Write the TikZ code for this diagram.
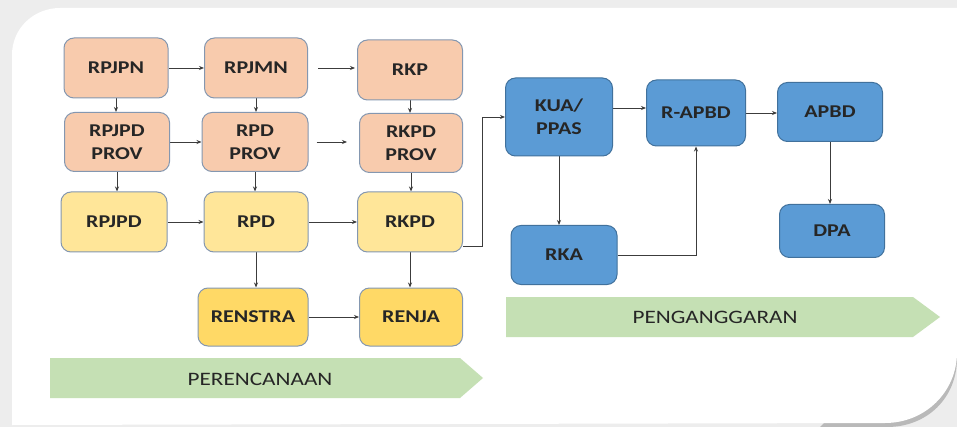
\documentclass[tikz,border=0pt]{standalone}
\usepackage{fontspec}
\usepackage{xcolor}
\usepackage{tikz}
\usetikzlibrary{positioning}
\usetikzlibrary{arrows.meta}
\newfontfamily\boxfont{Carlito}[FakeStretch=1.22]
\pgfdeclarelayer{bglayer}
\pgfdeclarelayer{nodelayer}
\pgfdeclarelayer{edgelayer}
\pgfsetlayers{bglayer,edgelayer,nodelayer,main}
\definecolor{peach}{HTML}{F8CBAD}
\definecolor{lightyel}{HTML}{FFE699}
\definecolor{darkyel}{HTML}{FFD966}
\definecolor{boxblue}{HTML}{5B9BD5}
\definecolor{blueline}{HTML}{41719C}
\definecolor{grayline}{HTML}{8497B0}
\definecolor{phase}{HTML}{C5E0B4}
\definecolor{ink}{HTML}{262626}
\tikzset{
    box/.style = {rounded corners=10pt, draw=grayline, line width=1pt, align=center,
                  text=ink, font=\boxfont\bfseries\fontsize{18}{23}\selectfont, inner sep=0pt},
    plan/.style = {box, fill=peach},
    daerah/.style = {box, fill=lightyel},
    dok/.style = {box, fill=darkyel},
    anggaran/.style = {box, fill=boxblue, draw=blueline},
    link/.style = {draw=ink!90, line width=0.9pt, -{Stealth[length=5pt,width=4pt]}},
    phasetext/.style = {text=ink, font=\boxfont\fontsize{19}{22}\selectfont, inner sep=0pt}
}
\begin{document}
\begin{tikzpicture}[x=1pt, y=-1pt]
  \useasboundingbox (0,0) rectangle (957,427);
  \begin{pgfonlayer}{bglayer}
    % background and panel
    \fill[gray!14] (0,0) rectangle (957,427);
    \fill[gray!55] (820,427) -- (957,290) -- (957,358) .. controls (957,398) and (927,427) .. (887,427) -- cycle;
    \fill[white] (12,425) -- (12,55) .. controls (12,28) and (34,8) .. (60,8) -- (957,8) -- (957,352)
      .. controls (957,392) and (925,423) .. (885,423) -- cycle;
    % phases
    \fill[phase] (50,358) -- (460,358) -- (483,378) -- (460,398) -- (50,398) -- cycle;
    \fill[phase] (506,297) -- (913,297) -- (940,317) -- (913,337) -- (506,337) -- cycle;
  \end{pgfonlayer}
  \node [phasetext] (perencanaan) at (260,379) {PERENCANAAN};
  \node [phasetext] (penganggaran) at (715,317) {PENGANGGARAN};
  \begin{pgfonlayer}{nodelayer}
    \node [plan, minimum width=104pt, minimum height=60pt] (rpjpn) at (116, 68) {RPJPN};
    \node [plan, minimum width=103pt, minimum height=60pt] (rpjmn) at (256, 68) {RPJMN};
    \node [plan, minimum width=105pt, minimum height=60pt] (rkp) at (410, 70) {RKP};
    \node [plan, minimum width=105pt, minimum height=59pt] (rpjpdprov) at (117, 142) {RPJPD\\PROV};
    \node [plan, minimum width=106pt, minimum height=59pt] (rpdprov) at (255, 142) {RPD\\PROV};
    \node [plan, minimum width=103pt, minimum height=59pt] (rkpdprov) at (411, 143) {RKPD\\PROV};
    \node [daerah, minimum width=106pt, minimum height=60pt] (rpjpd) at (114, 222) {RPJPD};
    \node [daerah, minimum width=104pt, minimum height=60pt] (rpd) at (256, 222) {RPD};
    \node [daerah, minimum width=105pt, minimum height=60pt] (rkpd) at (410, 222) {RKPD};
    \node [dok, minimum width=110pt, minimum height=58pt] (renstra) at (253, 317) {RENSTRA};
    \node [dok, minimum width=103pt, minimum height=58pt] (renja) at (411, 317) {RENJA};
    \node [anggaran, minimum width=107pt, minimum height=78pt] (kua) at (559, 117) {KUA/\\PPAS};
    \node [anggaran, minimum width=99pt, minimum height=66pt] (rapbd) at (696, 113) {R-APBD};
    \node [anggaran, minimum width=105pt, minimum height=59pt] (apbd) at (830, 112) {APBD};
    \node [anggaran, minimum width=105pt, minimum height=53pt] (dpa) at (832, 231) {DPA};
    \node [anggaran, minimum width=106pt, minimum height=59pt] (rka) at (564, 255) {RKA};
  \end{pgfonlayer}
  \begin{pgfonlayer}{edgelayer}
    % perencanaan
    \draw [link] (rpjpn.east) -- (rpjpn.east -| rpjmn.west);
    \draw [link, shorten <=10pt, shorten >=2pt] (rpjmn.east) -- (rpjmn.east -| rkp.west);
    \draw [link] (rpjpdprov.east) -- (rpjpdprov.east -| rpdprov.west);
    \draw [link, shorten <=8pt, shorten >=12pt] (rpdprov.east) -- (rpdprov.east -| rkpdprov.west);
    \draw [link] (rpjpd.east) -- (rpjpd.east -| rpd.west);
    \draw [link] (rpd.east) -- (rpd.east -| rkpd.west);
    \draw [link] (renstra.east) -- (renstra.east -| renja.west);
    \draw [link] (rpjpn.south) -- (rpjpn.south |- rpjpdprov.north);
    \draw [link] (rpjmn.south) -- (rpjmn.south |- rpdprov.north);
    \draw [link] (rkp.south) -- (rkp.south |- rkpdprov.north);
    \draw [link] (rpjpdprov.south) -- (rpjpdprov.south |- rpjpd.north);
    \draw [link] (rpdprov.south) -- (rpdprov.south |- rpd.north);
    \draw [link] (rkpdprov.south) -- (rkpdprov.south |- rkpd.north);
    \draw [link] (rpd.south) -- (rpd.south |- renstra.north);
    \draw [link] (rkpd.south) -- (rkpd.south |- renja.north);
    % penganggaran
    \draw [link] ([yshift=-24pt]rkpd.east) -- ++(19,0) |- (kua.west);
    \draw [link] ([yshift=9pt]kua.east) -- ([yshift=9pt]kua.east -| rapbd.west);
    \draw [link] (kua.south) -- (kua.south |- rka.north);
    \draw [link] (rka.east) -| (rapbd.south);
    \draw [link] (rapbd.east) -- (rapbd.east -| apbd.west);
    \draw [link] (apbd.south) -- (apbd.south |- dpa.north);
  \end{pgfonlayer}
\end{tikzpicture}
\end{document}
